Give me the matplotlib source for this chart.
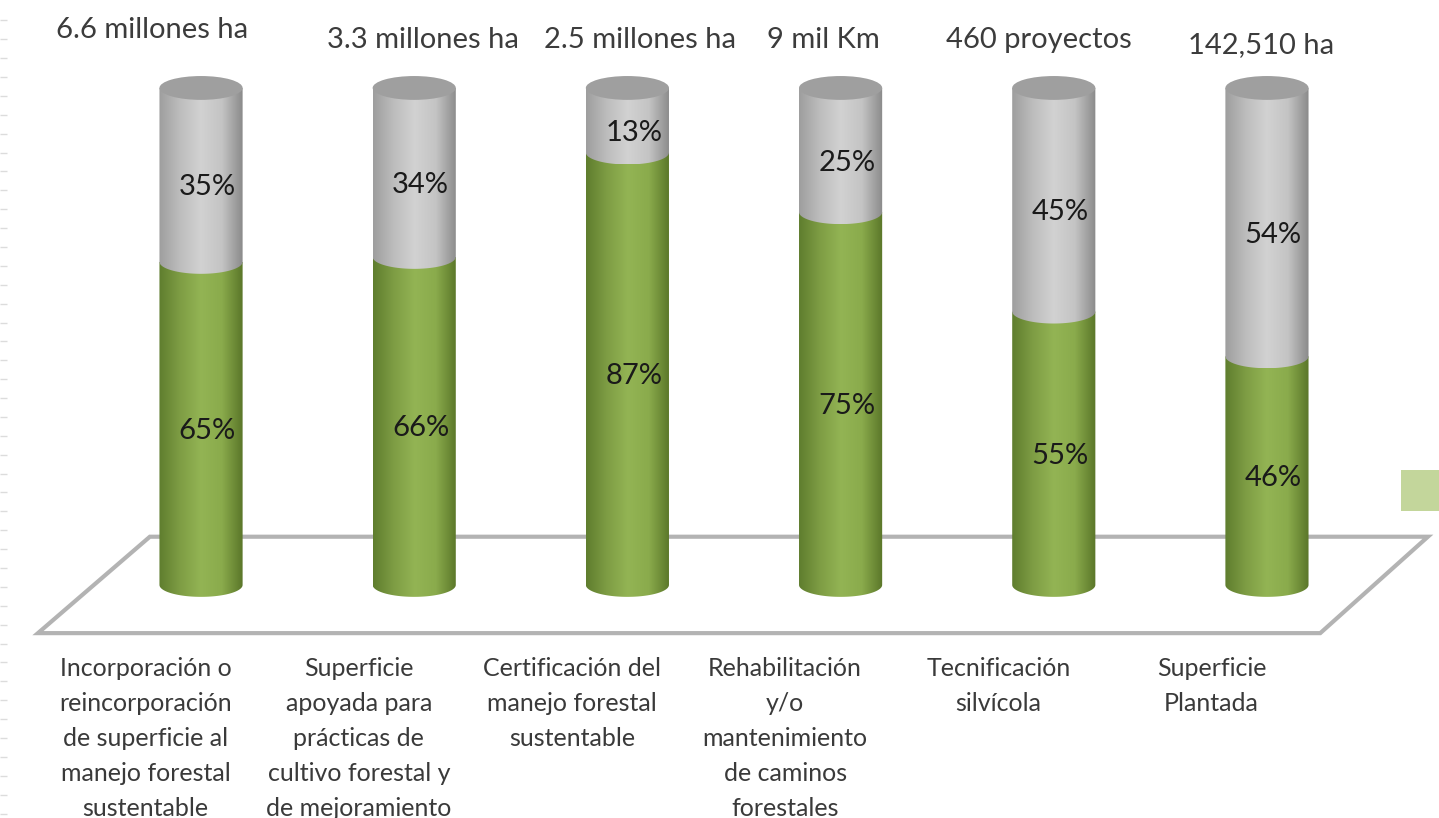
import numpy as np
import matplotlib.pyplot as plt
from matplotlib.patches import Ellipse, Polygon, PathPatch, Rectangle
from matplotlib.path import Path
from matplotlib.colors import LinearSegmentedColormap

plt.rcParams['font.family'] = ['Lato', 'DejaVu Sans']

categorias = ['Incorporación o\nreincorporación\nde superficie al\nmanejo forestal\nsustentable',
              'Superficie\napoyada para\nprácticas de\ncultivo forestal y\nde mejoramiento',
              'Certificación del\nmanejo forestal\nsustentable',
              'Rehabilitación\ny/o\nmantenimiento\nde caminos\nforestales',
              'Tecnificación\nsilvícola',
              'Superficie\nPlantada']
totales = ['6.6 millones ha', '3.3 millones ha', '2.5 millones ha',
           '9 mil Km', '460 proyectos', '142,510 ha']
avance = [65, 66, 87, 75, 55, 46]
pendiente = [35, 34, 13, 25, 45, 54]

# offsets of the header labels (perspective of the original)
tot_dx = [-0.23, 0.04, 0.06, -0.08, -0.07, -0.03]
tot_y = [111.7, 109.7, 109.7, 109.7, 109.7, 108.7]

verde = LinearSegmentedColormap.from_list('v', ['#5f7d2e', '#7e9d44', '#93b454', '#8aab4c', '#5a7629'])
gris = LinearSegmentedColormap.from_list('g', ['#9e9e9e', '#bdbdbd', '#d2d2d2', '#c4c4c4', '#8a8a8a'])

fig = plt.figure(figsize=(14.39, 8.18), dpi=100)
ax = fig.add_axes([0, 0, 1, 1])
ax.set_xlim(-0.943, 5.807)
ax.set_ylim(-46.9, 117.7)
ax.axis('off')

x = np.arange(len(categorias))
w = 0.39
e = 2.4  # semi-height of the cylinder ellipses


def segmento(x0, yb, yt, cmap, z):
    a = w / 2
    xc = x0 + a
    t = np.linspace(np.pi, 2 * np.pi, 60)
    verts = [(x0, yt)] + list(zip(xc + a * np.cos(t), yb + e * np.sin(t))) + [(x0 + w, yt), (x0, yt)]
    path = Path(verts, closed=True)
    patch = PathPatch(path, facecolor='none', edgecolor='none', zorder=z)
    ax.add_patch(patch)
    grad = np.linspace(0, 1, 256).reshape(1, -1)
    im = ax.imshow(grad, cmap=cmap, extent=(x0, x0 + w, yb - e, yt), aspect='auto',
                   zorder=z, interpolation='bilinear')
    im.set_clip_path(patch)


# floor
piso = Polygon([(-0.24, 9.7), (5.755, 9.7), (5.25, -9.7), (-0.765, -9.7)], closed=True,
               fill=False, edgecolor='#b3b3b3', lw=3, zorder=1)
ax.add_patch(piso)

b1 = ax.bar(x, avance, width=w, color='none', zorder=0)
b2 = ax.bar(x, pendiente, bottom=avance, width=w, color='none', zorder=0)

for i in range(len(x)):
    r1 = b1[i]
    r2 = b2[i]
    x0 = r1.get_x()
    segmento(x0, r1.get_y(), r1.get_y() + r1.get_height(), verde, 3)
    segmento(x0, r2.get_y(), r2.get_y() + r2.get_height(), gris, 4)
    ax.add_patch(Ellipse((x0 + w / 2, r2.get_y() + r2.get_height()), w, 2 * e,
                         facecolor='#9f9f9f', edgecolor='none', zorder=5))
    ax.text(x[i] + 0.03, avance[i] / 2 - 1.5, f'{avance[i]}%', ha='center', va='center',
            fontsize=21, color='#1a1a1a', zorder=6)
    ax.text(x[i] + 0.03, avance[i] + pendiente[i] / 2 - 2.5, f'{pendiente[i]}%', ha='center',
            va='center', fontsize=21, color='#1a1a1a', zorder=6)
    ax.text(x[i] + tot_dx[i], tot_y[i], totales[i], ha='center', va='center',
            fontsize=21, color='#3c3c3c')
    ax.text(x[i] - 0.26, -14.6, categorias[i], ha='center', va='top', fontsize=18,
            color='#3a3a3a', linespacing=1.63)

# legend fragment at the right edge
ax.add_patch(Rectangle((0.9736, 0.375), 0.03, 0.05, transform=ax.transAxes,
                       facecolor='#c3d69b', edgecolor='none'))
# faint dashes on the left border
ax.hlines(np.arange(-46, 117, 3.8), 0, 0.005, transform=ax.get_yaxis_transform(),
          color='#dcdcdc', lw=1)

fig.savefig('out.png', dpi=100)
